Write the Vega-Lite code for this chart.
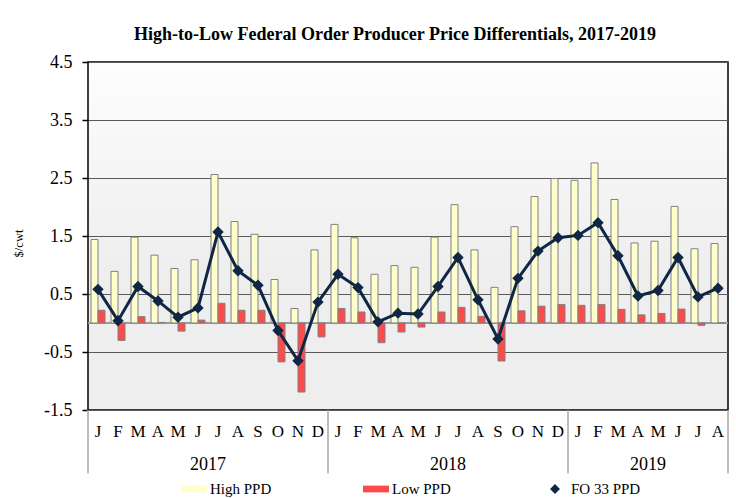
{
  "$schema": "https://vega.github.io/schema/vega-lite/v6.json",
  "autosize": {"type": "none"},
  "padding": {"left": 88, "top": 62, "right": 8, "bottom": 88},
  "width": 640,
  "height": 348,
  "title": {
    "text": "High-to-Low Federal Order Producer Price Differentials, 2017-2019",
    "font": "Liberation Serif", "fontSize": 18, "fontWeight": "bold", "color": "#000",
    "anchor": "middle", "frame": "group", "dx": -13, "offset": 9
  },
  "config": {
    "font": "Liberation Serif",
    "view": {
      "stroke": "#000", "strokeWidth": 1.5,
      "fill": {"gradient": "linear", "x1": 0, "y1": 0, "x2": 0, "y2": 1,
        "stops": [{"offset": 0, "color": "#fdfdfd"}, {"offset": 0.6, "color": "#eeeeee"}, {"offset": 1, "color": "#eeeeee"}]}
    }
  },
  "data": {"values": [
    {"date": "2017-01", "yr": "2017", "mo": 1, "High PPD": 1.44, "Low PPD": 0.22, "FO 33 PPD": 0.58},
    {"date": "2017-02", "yr": "2017", "mo": 2, "High PPD": 0.89, "Low PPD": -0.30, "FO 33 PPD": 0.04},
    {"date": "2017-03", "yr": "2017", "mo": 3, "High PPD": 1.48, "Low PPD": 0.11, "FO 33 PPD": 0.63},
    {"date": "2017-04", "yr": "2017", "mo": 4, "High PPD": 1.17, "Low PPD": 0.01, "FO 33 PPD": 0.38},
    {"date": "2017-05", "yr": "2017", "mo": 5, "High PPD": 0.94, "Low PPD": -0.14, "FO 33 PPD": 0.10},
    {"date": "2017-06", "yr": "2017", "mo": 6, "High PPD": 1.09, "Low PPD": 0.05, "FO 33 PPD": 0.26},
    {"date": "2017-07", "yr": "2017", "mo": 7, "High PPD": 2.56, "Low PPD": 0.34, "FO 33 PPD": 1.57},
    {"date": "2017-08", "yr": "2017", "mo": 8, "High PPD": 1.75, "Low PPD": 0.22, "FO 33 PPD": 0.90},
    {"date": "2017-09", "yr": "2017", "mo": 9, "High PPD": 1.53, "Low PPD": 0.22, "FO 33 PPD": 0.65},
    {"date": "2017-10", "yr": "2017", "mo": 10, "High PPD": 0.75, "Low PPD": -0.67, "FO 33 PPD": -0.13},
    {"date": "2017-11", "yr": "2017", "mo": 11, "High PPD": 0.25, "Low PPD": -1.19, "FO 33 PPD": -0.65},
    {"date": "2017-12", "yr": "2017", "mo": 12, "High PPD": 1.26, "Low PPD": -0.24, "FO 33 PPD": 0.36},
    {"date": "2018-01", "yr": "2018", "mo": 1, "High PPD": 1.70, "Low PPD": 0.25, "FO 33 PPD": 0.84},
    {"date": "2018-02", "yr": "2018", "mo": 2, "High PPD": 1.47, "Low PPD": 0.19, "FO 33 PPD": 0.61},
    {"date": "2018-03", "yr": "2018", "mo": 3, "High PPD": 0.84, "Low PPD": -0.34, "FO 33 PPD": 0.02},
    {"date": "2018-04", "yr": "2018", "mo": 4, "High PPD": 0.99, "Low PPD": -0.155, "FO 33 PPD": 0.17},
    {"date": "2018-05", "yr": "2018", "mo": 5, "High PPD": 0.96, "Low PPD": -0.07, "FO 33 PPD": 0.155},
    {"date": "2018-06", "yr": "2018", "mo": 6, "High PPD": 1.48, "Low PPD": 0.19, "FO 33 PPD": 0.63},
    {"date": "2018-07", "yr": "2018", "mo": 7, "High PPD": 2.04, "Low PPD": 0.27, "FO 33 PPD": 1.13},
    {"date": "2018-08", "yr": "2018", "mo": 8, "High PPD": 1.26, "Low PPD": 0.115, "FO 33 PPD": 0.40},
    {"date": "2018-09", "yr": "2018", "mo": 9, "High PPD": 0.615, "Low PPD": -0.655, "FO 33 PPD": -0.275},
    {"date": "2018-10", "yr": "2018", "mo": 10, "High PPD": 1.66, "Low PPD": 0.21, "FO 33 PPD": 0.77},
    {"date": "2018-11", "yr": "2018", "mo": 11, "High PPD": 2.18, "Low PPD": 0.29, "FO 33 PPD": 1.24},
    {"date": "2018-12", "yr": "2018", "mo": 12, "High PPD": 2.49, "Low PPD": 0.32, "FO 33 PPD": 1.47},
    {"date": "2019-01", "yr": "2019", "mo": 1, "High PPD": 2.46, "Low PPD": 0.305, "FO 33 PPD": 1.51},
    {"date": "2019-02", "yr": "2019", "mo": 2, "High PPD": 2.76, "Low PPD": 0.32, "FO 33 PPD": 1.73},
    {"date": "2019-03", "yr": "2019", "mo": 3, "High PPD": 2.13, "Low PPD": 0.235, "FO 33 PPD": 1.16},
    {"date": "2019-04", "yr": "2019", "mo": 4, "High PPD": 1.38, "Low PPD": 0.14, "FO 33 PPD": 0.465},
    {"date": "2019-05", "yr": "2019", "mo": 5, "High PPD": 1.41, "Low PPD": 0.165, "FO 33 PPD": 0.56},
    {"date": "2019-06", "yr": "2019", "mo": 6, "High PPD": 2.01, "Low PPD": 0.24, "FO 33 PPD": 1.13},
    {"date": "2019-07", "yr": "2019", "mo": 7, "High PPD": 1.28, "Low PPD": -0.04, "FO 33 PPD": 0.45},
    {"date": "2019-08", "yr": "2019", "mo": 8, "High PPD": 1.37, "Low PPD": 0.0, "FO 33 PPD": 0.60}
  ]},
  "layer": [
    {
      "mark": {"type": "rule", "color": "#9a9a9a", "strokeWidth": 1.5},
      "encoding": {
        "y": {"datum": 0, "type": "quantitative", "scale": {"domain": [-1.5, 4.5], "nice": false}}
      }
    },
    {
      "transform": [{"fold": ["High PPD", "Low PPD"], "as": ["series", "val"]}],
      "mark": {"type": "bar", "stroke": "#808080", "strokeWidth": 1},
      "encoding": {
        "x": {
          "field": "date", "type": "ordinal",
          "scale": {"paddingInner": 0, "paddingOuter": 0},
          "axis": {
            "title": null, "orient": "bottom",
            "labelExpr": "['J','F','M','A','M','J','J','A','S','O','N','D'][toNumber(slice(datum.value, 5)) - 1]",
            "labelAngle": 0, "labelFont": "Liberation Serif", "labelFontSize": 17, "labelColor": "#000",
            "labelPadding": 13, "ticks": false, "tickSize": 0, "domain": false, "grid": false
          }
        },
        "xOffset": {"field": "series", "type": "nominal", "scale": {"domain": ["High PPD", "Low PPD"], "paddingInner": 0, "paddingOuter": 0.43}},
        "y": {
          "field": "val", "type": "quantitative",
          "scale": {"domain": [-1.5, 4.5], "nice": false},
          "axis": {
            "values": [-1.5, -0.5, 0.5, 1.5, 2.5, 3.5, 4.5],
            "labelExpr": "replace(format(datum.value, '.1f'), '\u2212', '-')",
            "grid": true, "gridColor": "#5a5a5a", "gridWidth": 1,
            "tickColor": "#000", "tickSize": 6, "tickWidth": 1.5, "domain": false,
            "labelFont": "Liberation Serif", "labelFontSize": 18, "labelColor": "#000", "labelPadding": 10,
            "title": "$/cwt", "titleFont": "Liberation Serif", "titleFontSize": 12.5, "titleFontWeight": "normal",
            "titleColor": "#000", "titleX": -70, "titleY": 181, "titleAngle": -90, "titleAlign": "center", "titleBaseline": "middle"
          }
        },
        "color": {
          "field": "series", "type": "nominal",
          "scale": {"domain": ["High PPD", "Low PPD", "FO 33 PPD"], "range": ["#ffffcc", "#ff4a4a", "#0f2744"]},
          "legend": {
            "title": null, "orient": "none", "legendX": 92, "legendY": 413, "direction": "horizontal",
            "columnPadding": 88, "symbolSize": 676, "labelFont": "Liberation Serif", "labelFontSize": 15,
            "labelColor": "#000", "labelOffset": 2, "symbolOpacity": 1,
            "symbolType": "M-1,-0.26H1V0.26H-1Z", "symbolStrokeColor": "#666666", "symbolStrokeWidth": 1.2
          }
        }
      }
    },
    {
      "mark": {"type": "line", "strokeWidth": 3, "color": "#0f2744"},
      "encoding": {
        "x": {"field": "date", "type": "ordinal"},
        "y": {"field": "FO 33 PPD", "type": "quantitative", "scale": {"domain": [-1.5, 4.5], "nice": false}}
      }
    },
    {
      "mark": {"type": "point", "filled": true, "size": 900, "opacity": 1, "color": "#0f2744"},
      "encoding": {
        "x": {"field": "date", "type": "ordinal"},
        "y": {"field": "FO 33 PPD", "type": "quantitative", "scale": {"domain": [-1.5, 4.5], "nice": false}},
        "shape": {
          "datum": "FO 33 PPD",
          "scale": {"domain": ["High PPD", "Low PPD", "FO 33 PPD"], "range": ["M-1,-0.26H1V0.26H-1Z", "M-1,-0.26H1V0.26H-1Z", "M-1,0H1M0,-0.38L0.38,0L0,0.38L-0.38,0Z"]},
          "legend": {
            "title": null, "orient": "none", "legendX": 92, "legendY": 413, "direction": "horizontal",
            "columnPadding": 88, "symbolSize": 676, "labelFont": "Liberation Serif", "labelFontSize": 15,
            "labelColor": "#000", "labelOffset": 2, "symbolOpacity": 1,
            "symbolStrokeColor": "#666666", "symbolStrokeWidth": 1.2
          }
        }
      }
    },
    {
      "transform": [{"filter": "datum.mo === 1"}],
      "mark": {"type": "rule", "color": "#a8a8a8", "strokeWidth": 1.5},
      "encoding": {
        "x": {"field": "date", "type": "ordinal", "bandPosition": 0},
        "y": {"datum": -1.5, "type": "quantitative", "scale": {"domain": [-1.5, 4.5], "nice": false}},
        "y2": {"datum": -2.59}
      }
    },
    {
      "transform": [{"filter": "datum.date === '2019-08'"}],
      "mark": {"type": "rule", "color": "#a8a8a8", "strokeWidth": 1.5},
      "encoding": {
        "x": {"field": "date", "type": "ordinal", "bandPosition": 1},
        "y": {"datum": -1.5, "type": "quantitative", "scale": {"domain": [-1.5, 4.5], "nice": false}},
        "y2": {"datum": -2.59}
      }
    },
    {
      "transform": [{"filter": "(datum.mo === 6 && datum.yr !== '2019') || datum.date === '2019-04'"}],
      "mark": {"type": "text", "font": "Liberation Serif", "fontSize": 18, "color": "#000", "baseline": "middle", "align": "center"},
      "encoding": {
        "x": {"field": "date", "type": "ordinal", "bandPosition": 1},
        "y": {"datum": -2.45, "type": "quantitative", "scale": {"domain": [-1.5, 4.5], "nice": false}},
        "text": {"field": "yr"}
      }
    }
  ]
}
